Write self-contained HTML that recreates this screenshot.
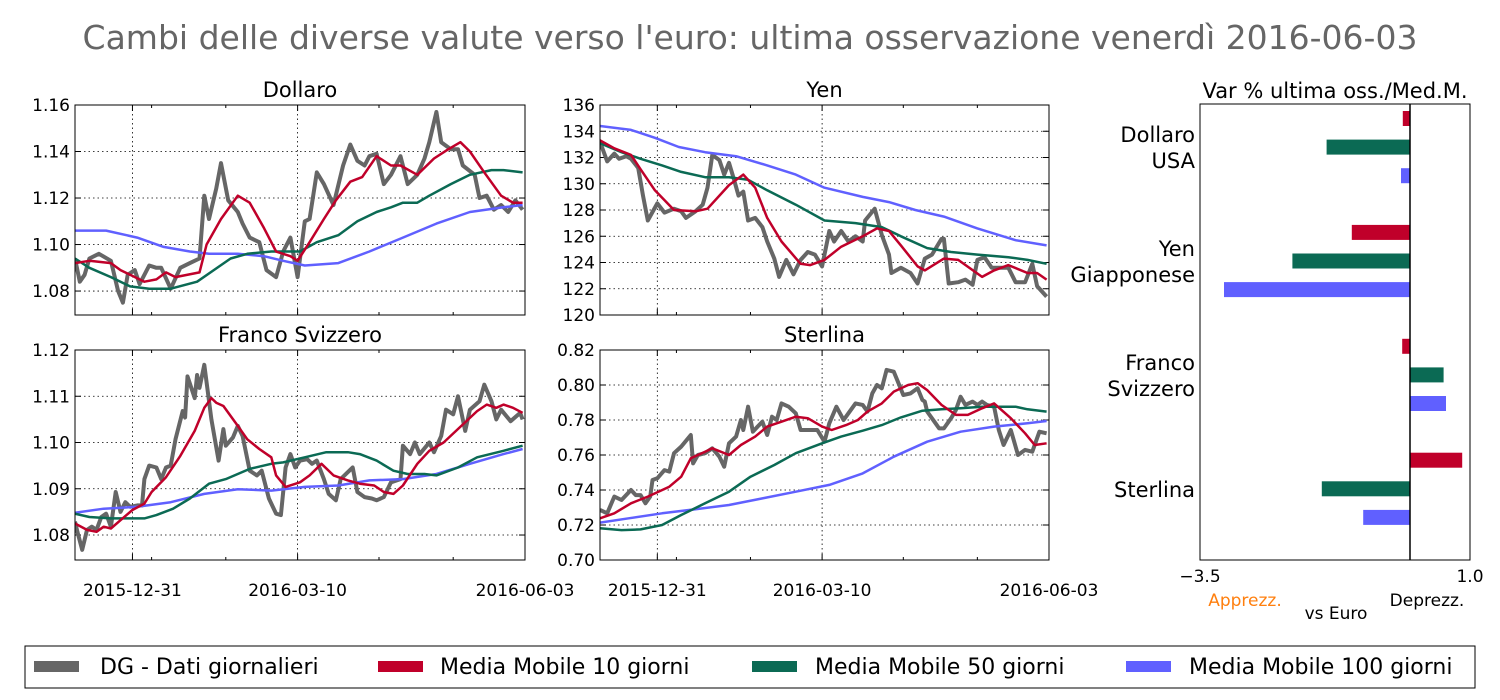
<!DOCTYPE html>
<html><head><meta charset="utf-8"><style>
html,body{margin:0;padding:0;background:#fff;}
svg{display:block;font-family:"DejaVu Sans","Liberation Sans",sans-serif;}
</style></head><body>
<svg id="chart" width="1500" height="700" viewBox="0 0 1500 700" xmlns="http://www.w3.org/2000/svg">
<rect width="1500" height="700" fill="#fff"/>
<text x="750" y="49" font-size="33" fill="#666" text-anchor="middle">Cambi delle diverse valute verso l'euro: ultima osservazione venerdì 2016-06-03</text>
<g id="panels"></g>
<g id="bars"></g>
<g>
<rect x="25" y="646" width="1450" height="42" fill="#fff" stroke="#000" stroke-width="1"/>
<rect x="34" y="661" width="45" height="11" fill="#666"/>
<text x="100" y="674" font-size="22">DG - Dati giornalieri</text>
<rect x="378" y="661" width="45" height="11" fill="#c0002a"/>
<text x="440" y="674" font-size="22">Media Mobile 10 giorni</text>
<rect x="752" y="661" width="45" height="11" fill="#0b6a54"/>
<text x="815" y="674" font-size="22">Media Mobile 50 giorni</text>
<rect x="1126" y="661" width="45" height="11" fill="#6060ff"/>
<text x="1189" y="674" font-size="22">Media Mobile 100 giorni</text>
</g>
</svg>
<script>
// ---------- data ----------
const dateTickLabels = ["2015-12-31","2016-03-10","2016-06-03"];
const dateTickDays = [24, 93, 188];
const minorTickDays = [32, 63, 127, 158];

const usdDailyDays = [0,2,4,6,10,15,18,20,22,25,27,31,34,36,40,44,48,52,54,56,59,61,64,68,70,73,77,80,84,87,90,93,96,98,101,104,108,112,115,118,121,123,126,129,132,136,139,143,146,148,151,153,157,160,162,167,169,172,175,178,181,184,187];
const usdDaily = [1.094,1.084,1.087,1.094,1.096,1.093,1.080,1.075,1.087,1.089,1.083,1.091,1.090,1.090,1.081,1.090,1.092,1.094,1.121,1.111,1.124,1.135,1.119,1.114,1.109,1.103,1.101,1.089,1.086,1.097,1.103,1.086,1.110,1.111,1.131,1.126,1.117,1.134,1.143,1.136,1.134,1.138,1.139,1.126,1.130,1.138,1.126,1.130,1.137,1.144,1.157,1.144,1.141,1.141,1.134,1.130,1.120,1.121,1.115,1.117,1.114,1.119,1.115];
const usdMa10Days = [0,6,15,19,29,34,38,42,52,55,61,68,73,79,84,90,93,98,104,109,115,120,126,132,136,143,150,156,161,165,171,178,183,187];
const usdMa10 = [1.092,1.093,1.092,1.089,1.084,1.085,1.088,1.086,1.088,1.100,1.111,1.121,1.118,1.107,1.097,1.095,1.093,1.101,1.111,1.119,1.127,1.129,1.138,1.134,1.134,1.130,1.137,1.141,1.144,1.140,1.131,1.121,1.118,1.118];
const usdMa50Days = [0,6,15,23,31,40,51,58,65,72,82,94,101,110,118,126,132,137,143,148,157,165,174,179,187];
const usdMa50 = [1.094,1.090,1.086,1.082,1.081,1.081,1.084,1.089,1.094,1.096,1.097,1.097,1.101,1.104,1.110,1.114,1.116,1.118,1.118,1.121,1.126,1.130,1.132,1.132,1.131];
const usdMa100Days = [0,13,26,37,48,56,68,79,87,96,110,123,137,151,165,179,187];
const usdMa100 = [1.106,1.106,1.103,1.099,1.097,1.096,1.096,1.095,1.093,1.091,1.092,1.097,1.103,1.109,1.114,1.116,1.117];

const jpyDailyDays = [0,3,6,8,11,13,16,18,20,24,27,31,34,36,40,43,45,47,50,52,54,56,58,60,62,65,68,70,73,75,78,81,84,87,90,93,96,98,101,104,107,110,111,115,118,121,122,126,130,133,136,139,143,144,146,150,153,156,158,161,164,167,171,174,178,181,183,187];
const jpyDaily = [133.2,131.7,132.3,131.9,132.1,131.9,131.2,129.1,127.2,128.5,127.8,128.1,127.9,127.4,127.9,128.4,129.7,132.2,131.8,130.7,131.6,130.4,129.1,129.4,127.2,127.4,126.7,125.6,124.3,122.9,124.2,123.1,124.2,124.8,124.6,123.7,126.4,125.6,126.4,125.6,126.0,125.6,127.2,128.1,126.1,124.6,123.2,123.6,123.2,122.4,124.3,124.6,125.8,125.8,122.4,122.5,122.7,122.3,124.2,124.4,123.6,123.6,123.6,122.5,122.5,123.9,122.2,121.4];
const jpyMa10Days = [0,6,13,17,23,31,40,45,54,60,65,70,76,84,88,94,101,110,116,121,126,133,136,144,150,160,165,171,179,183,187];
const jpyMa10 = [133.3,132.7,132.2,131.1,129.5,128.0,127.9,128.1,129.9,130.7,129.7,127.4,125.6,123.9,123.8,124.2,125.2,126.0,126.6,126.4,125.3,123.7,123.4,124.3,124.2,122.9,123.4,123.8,123.2,123.2,122.7];
const jpyMa50Days = [0,9,17,26,34,44,54,62,70,82,94,107,118,126,137,147,158,171,179,187];
const jpyMa50 = [133.1,132.4,131.9,131.4,130.9,130.5,130.5,130.3,129.5,128.4,127.2,127.0,126.7,126.0,125.1,124.8,124.6,124.4,124.2,123.9];
const jpyMa100Days = [0,13,23,33,44,57,70,82,94,110,121,132,144,158,174,187];
const jpyMa100 = [134.4,134.1,133.5,132.8,132.4,132.1,131.4,130.7,129.7,129.0,128.6,128.0,127.5,126.6,125.7,125.3];

const chfDailyDays = [0,1,3,5,7,9,11,13,15,17,19,21,23,26,28,29,31,34,36,38,40,42,45,46,47,50,51,52,54,57,60,62,63,66,68,70,73,76,78,81,84,86,88,90,92,94,97,99,101,104,106,109,111,114,116,118,121,124,126,129,132,136,137,140,142,144,148,150,153,155,158,160,163,165,169,171,174,176,178,182,186,187];
const chfDaily = [1.0829,1.0807,1.0768,1.0811,1.0818,1.0811,1.0839,1.0846,1.0818,1.0893,1.085,1.0871,1.0861,1.0864,1.0864,1.0921,1.095,1.0946,1.0921,1.0946,1.095,1.1007,1.1068,1.1054,1.1143,1.1096,1.1146,1.1118,1.1168,1.105,1.0961,1.1029,1.0993,1.1011,1.1036,1.1014,1.0939,1.0929,1.0939,1.0879,1.0846,1.0843,1.0946,1.0975,1.0946,1.0961,1.0964,1.0954,1.0961,1.0921,1.0889,1.0875,1.0921,1.0936,1.0946,1.0893,1.0882,1.0879,1.0875,1.0882,1.0914,1.0921,1.0993,1.0975,1.1,1.0975,1.1,1.0979,1.1014,1.1071,1.1061,1.11,1.1025,1.1071,1.1089,1.1125,1.1089,1.105,1.1071,1.1046,1.1064,1.105];
const chfMa10Days = [0,5,9,12,15,19,24,29,32,38,44,50,54,57,59,62,68,72,77,82,84,88,94,98,103,108,114,119,125,129,133,137,143,148,154,162,168,172,176,179,183,187];
const chfMa10 = [1.0825,1.0811,1.0807,1.0818,1.0814,1.0832,1.0854,1.0868,1.0893,1.0925,1.0971,1.1025,1.1075,1.1096,1.1086,1.1079,1.1036,1.1007,1.0986,1.0968,1.0929,1.0904,1.0914,1.0929,1.0954,1.0929,1.0918,1.0911,1.0907,1.0893,1.0889,1.0907,1.0954,1.0982,1.1,1.1039,1.1068,1.1082,1.1075,1.1082,1.1075,1.1064];
const chfMa50Days = [0,6,15,23,29,34,41,48,56,63,73,82,87,96,105,114,119,126,133,139,146,151,160,168,179,187];
const chfMa50 = [1.0846,1.0839,1.0836,1.0836,1.0836,1.0843,1.0857,1.0879,1.0911,1.0921,1.0943,1.0954,1.0957,1.0968,1.0979,1.0979,1.0975,1.0961,1.0939,1.0932,1.0932,1.0929,1.0946,1.0968,1.0982,1.0993];
const chfMa100Days = [0,12,26,40,54,68,82,96,110,123,137,151,165,179,187];
const chfMa100 = [1.0848,1.0857,1.0861,1.0871,1.0889,1.0899,1.0896,1.0904,1.0907,1.0918,1.0921,1.0932,1.0954,1.0975,1.0986];

const gbpDailyDays = [0,3,6,9,13,15,17,19,21,22,24,27,29,31,34,38,39,41,44,47,50,52,54,57,59,60,62,64,66,68,70,72,74,76,79,82,84,88,91,94,96,99,102,104,107,110,112,114,116,118,120,123,125,127,130,133,135,136,137,140,142,144,147,149,151,153,156,158,160,162,165,167,169,172,175,178,181,184,187];
const gbpDaily = [0.7286,0.7267,0.7362,0.7343,0.74,0.7371,0.7371,0.7324,0.7362,0.7457,0.7467,0.7514,0.7505,0.761,0.7648,0.7714,0.7552,0.76,0.761,0.7638,0.759,0.7533,0.7667,0.7705,0.78,0.7743,0.7876,0.7733,0.7762,0.779,0.7714,0.7819,0.78,0.7895,0.7876,0.7838,0.7743,0.7743,0.7743,0.7676,0.7781,0.7876,0.78,0.7838,0.7895,0.7886,0.7848,0.7952,0.8,0.7981,0.8086,0.8076,0.801,0.7943,0.7952,0.7981,0.7914,0.7905,0.7848,0.779,0.7752,0.7752,0.781,0.7857,0.7933,0.7886,0.7905,0.7886,0.7905,0.7886,0.7876,0.7743,0.7657,0.7743,0.76,0.7629,0.7619,0.7733,0.7724];
const gbpMa10Days = [0,6,13,20,29,34,38,44,47,54,59,65,70,76,82,87,93,97,103,108,112,118,123,129,133,137,143,149,154,160,165,172,178,182,187];
const gbpMa10 = [0.7238,0.7267,0.7324,0.7362,0.7419,0.7476,0.7581,0.7619,0.7638,0.76,0.7657,0.7705,0.7762,0.779,0.7819,0.781,0.7762,0.7743,0.7771,0.78,0.7848,0.7895,0.7962,0.8,0.801,0.7971,0.7886,0.7829,0.7829,0.7867,0.7895,0.781,0.7724,0.7657,0.7667];
const gbpMa50Days = [0,9,17,26,34,44,54,63,73,82,93,101,110,118,126,135,143,151,160,168,174,179,187];
const gbpMa50 = [0.7181,0.7171,0.7175,0.72,0.7257,0.7324,0.739,0.7476,0.7543,0.761,0.7667,0.7705,0.7739,0.7771,0.7815,0.7853,0.7861,0.7867,0.7876,0.7876,0.7876,0.7861,0.7848];
const gbpMa100Days = [0,12,26,40,54,68,82,96,110,123,137,151,165,179,187];
const gbpMa100 = [0.7213,0.7238,0.7267,0.729,0.7314,0.7352,0.739,0.7429,0.7495,0.759,0.7676,0.7733,0.7762,0.7781,0.7794];

const barCategories = [["Dollaro","USA"],["Yen","Giapponese"],["Franco","Svizzero"],["Sterlina"]];
const barMa10 = [-0.12,-0.97,-0.13,0.87];
const barMa50 = [-1.39,-1.96,0.56,-1.47];
const barMa100 = [-0.15,-3.1,0.6,-0.78];
const barTickLabels = ["\u22123.5","1.0"];
const barDomain = [-3.5, 1.0];

// ---------- drawing ----------
const NS = "http://www.w3.org/2000/svg";
function mk(tag, attrs, parent){const e=document.createElementNS(NS,tag);for(const k in attrs)e.setAttribute(k,attrs[k]);parent.appendChild(e);return e;}
const COL = {daily:"#666666", ma10:"#c0002a", ma50:"#0b6a54", ma100:"#6060ff"};

const panelsG = document.getElementById("panels");
const panels = [
  {name:"dollaro", title:"Dollaro", x0:75, y0:105, w:450, h:210, ymin:1.0697, ymax:1.16, ticks:[1.08,1.10,1.12,1.14,1.16], fmt:2,
   series:[["daily",usdDailyDays,usdDaily],["ma100",usdMa100Days,usdMa100],["ma50",usdMa50Days,usdMa50],["ma10",usdMa10Days,usdMa10]], xlabels:false},
  {name:"yen", title:"Yen", x0:600, y0:105, w:449, h:210, ymin:120, ymax:136, ticks:[120,122,124,126,128,130,132,134,136], fmt:0,
   series:[["daily",jpyDailyDays,jpyDaily],["ma100",jpyMa100Days,jpyMa100],["ma50",jpyMa50Days,jpyMa50],["ma10",jpyMa10Days,jpyMa10]], xlabels:false},
  {name:"franco", title:"Franco Svizzero", x0:75, y0:350, w:450, h:210, ymin:1.0746, ymax:1.12, ticks:[1.08,1.09,1.10,1.11,1.12], fmt:2,
   series:[["daily",chfDailyDays,chfDaily],["ma100",chfMa100Days,chfMa100],["ma50",chfMa50Days,chfMa50],["ma10",chfMa10Days,chfMa10]], xlabels:true},
  {name:"sterlina", title:"Sterlina", x0:600, y0:350, w:449, h:210, ymin:0.70, ymax:0.82, ticks:[0.70,0.72,0.74,0.76,0.78,0.80,0.82], fmt:2,
   series:[["daily",gbpDailyDays,gbpDaily],["ma100",gbpMa100Days,gbpMa100],["ma50",gbpMa50Days,gbpMa50],["ma10",gbpMa10Days,gbpMa10]], xlabels:true}
];
const DAYMAX = 188;

panels.forEach(p=>{
  const g = mk("g",{},panelsG);
  
  
  const xs = d => p.x0 + d/DAYMAX*p.w;
  const ys = v => p.y0 + p.h - (v-p.ymin)/(p.ymax-p.ymin)*p.h;
  const t = mk("text",{x:p.x0+p.w/2, y:p.y0-8, "font-size":21, "text-anchor":"middle"},g);
  t.textContent = p.title;
  
  
  // grid + y ticks
  p.ticks.forEach(v=>{
    const y = ys(v);
    if (y>p.y0+1 && y<p.y0+p.h-1) mk("line",{x1:p.x0,x2:p.x0+p.w,y1:y,y2:y,stroke:"#000","stroke-width":0.8,"stroke-dasharray":"1.5,3"},g);
    mk("line",{x1:p.x0,x2:p.x0+6,y1:y,y2:y,stroke:"#000"},g);
    mk("line",{x1:p.x0+p.w-6,x2:p.x0+p.w,y1:y,y2:y,stroke:"#000"},g);
    const lb = mk("text",{x:p.x0-5,y:y+6,"font-size":17,"text-anchor":"end"},g);
    lb.textContent = v.toFixed(p.fmt);
    
    
  });
  dateTickDays.slice(0,2).forEach(d=>{
    mk("line",{x1:xs(d),x2:xs(d),y1:p.y0,y2:p.y0+p.h,stroke:"#000","stroke-width":0.8,"stroke-dasharray":"1.5,3"},g);
  });
  dateTickDays.forEach(d=>{
    mk("line",{x1:xs(d),x2:xs(d),y1:p.y0+p.h-6,y2:p.y0+p.h,stroke:"#000"},g);
    mk("line",{x1:xs(d),x2:xs(d),y1:p.y0,y2:p.y0+6,stroke:"#000"},g);
  });
  minorTickDays.forEach(d=>{
    mk("line",{x1:xs(d),x2:xs(d),y1:p.y0+p.h-3,y2:p.y0+p.h,stroke:"#000"},g);
    mk("line",{x1:xs(d),x2:xs(d),y1:p.y0,y2:p.y0+3,stroke:"#000"},g);
  });
  const clipId = "clip-"+p.name;
  const cp = mk("clipPath",{id:clipId},g);
  mk("rect",{x:p.x0,y:p.y0,width:p.w,height:p.h},cp);
  p.series.forEach(s=>{
    const [key, days, vals] = s;
    const n = Math.min(days.length, vals.length);
    let dstr = "";
    for (let i=0;i<n;i++) dstr += (i?"L":"M") + xs(days[i]).toFixed(1)+","+ys(vals[i]).toFixed(1);
    const path = mk("path",{d:dstr,fill:"none",stroke:COL[key],"stroke-width":key==="daily"?4:2.5,"stroke-linejoin":"round","clip-path":"url(#"+clipId+")"},g);
    
    
  });
  mk("rect",{x:p.x0,y:p.y0,width:p.w,height:p.h,fill:"none",stroke:"#000","stroke-width":1},g);
  if (p.xlabels){
    dateTickDays.forEach((d,i)=>{
      const lb = mk("text",{x:xs(d),y:p.y0+p.h+36,"font-size":17,"text-anchor":"middle"},g);
      lb.textContent = dateTickLabels[i];
      
      
    });
  }
});

// bar chart
const bg = document.getElementById("bars");


const BX0=1200, BX1=1470, BY0=104, BY1=560;
const bx = v => BX0 + (v-barDomain[0])/(barDomain[1]-barDomain[0])*(BX1-BX0);
const groupTop = 111, groupStep = 113.9, barStep = 28.6, barH = 15;
const bt = mk("text",{x:1335,y:98,"font-size":21,"text-anchor":"middle"},bg);
bt.textContent = "Var % ultima oss./Med.M.";


const barSeries = [["ma10",barMa10],["ma50",barMa50],["ma100",barMa100]];
barCategories.forEach((cat,ci)=>{
  barSeries.forEach((s,si)=>{
    const v = s[1][ci];
    const y = groupTop + ci*groupStep + si*barStep;
    const r = mk("rect",{x:Math.min(bx(0),bx(v)),y:y,width:Math.abs(bx(v)-bx(0)),height:barH,fill:COL[s[0]]},bg);
    
    
  });
  const cy = groupTop + ci*groupStep + barStep + barH/2;
  const lines = cat;
  lines.forEach((ln,li)=>{
    const off = (li - (lines.length-1)/2)*26;
    const tx = mk("text",{x:1195,y:cy+off+8 - (lines.length===1?0:0),"font-size":21,"text-anchor":"end"},bg);
    tx.textContent = ln;
    
    
  });
});
mk("line",{x1:bx(0),x2:bx(0),y1:BY0,y2:BY1,stroke:"#000","stroke-width":1.5},bg);
mk("rect",{x:BX0,y:BY0,width:BX1-BX0,height:BY1-BY0,fill:"none",stroke:"#000","stroke-width":1},bg);
barDomain.forEach((v,i)=>{
  const lb = mk("text",{x:bx(v),y:582,"font-size":17,"text-anchor":"middle"},bg);
  lb.textContent = barTickLabels[i];
  
  
});
const a1 = mk("text",{x:1245,y:606,"font-size":17,"text-anchor":"middle",fill:"#ff7f0e"},bg);
a1.textContent = "Apprezz.";


const a2 = mk("text",{x:1336,y:619,"font-size":17,"text-anchor":"middle"},bg);
a2.textContent = "vs Euro";


const a3 = mk("text",{x:1427,y:606,"font-size":17,"text-anchor":"middle"},bg);
a3.textContent = "Deprezz.";


</script>
</body></html>
